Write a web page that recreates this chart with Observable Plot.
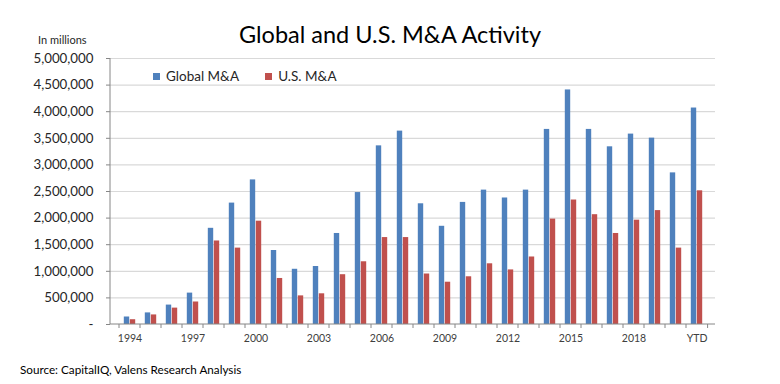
<!DOCTYPE html>
<html>
<head>
<meta charset="utf-8">
<script src="https://cdn.jsdelivr.net/npm/d3@7"></script>
<script src="https://cdn.jsdelivr.net/npm/@observablehq/plot@0.6"></script>
<style>
  html, body { margin: 0; padding: 0; background: #fff; }
  #wrap { position: relative; width: 780px; height: 384px; font-family: Lato, "Open Sans", sans-serif; color: #000; }
  #title { position: absolute; left: 0; width: 780px; top: 19px; height: 30px; line-height: 30px; text-align: center; font-size: 23.5px; }
  #unit { position: absolute; left: 38px; top: 33px; font-size: 11px; color: #262626; }
  #chart { position: absolute; left: 0; top: 50px; }
  #legend { position: absolute; left: 153px; top: 68px; font-size: 13.5px; color: #262626; display: flex; gap: 26px; }
  #legend span.item { display: flex; align-items: center; }
  #legend span.sw { display: inline-block; width: 7px; height: 7px; margin-right: 6px; }
  #source { position: absolute; left: 20px; top: 362px; font-size: 11.7px; color: #000; }
</style>
</head>
<body>
<div id="wrap">
  <div id="title">Global and U.S. M&amp;A Activity</div>
  <div id="unit">In millions</div>
  <div id="chart"></div>
  <div id="legend"></div>
  <div id="source">Source: CapitalIQ, Valens Research Analysis</div>
</div>
<script>
const years = ["1994","1995","1996","1997","1998","1999","2000","2001","2002","2003","2004","2005","2006","2007","2008","2009","2010","2011","2012","2013","2014","2015","2016","2017","2018","2019","2020","YTD"];
const globalMA = [141000, 218000, 365000, 590000, 1808000, 2282000, 2718000, 1391000, 1038000, 1090000, 1711000, 2480000, 3358000, 3635000, 2269000, 1846000, 2295000, 2526000, 2378000, 2526000, 3667000, 4409000, 3667000, 3340000, 3579000, 3503000, 2850000, 4069000];
const usMA = [90000, 180000, 308000, 423000, 1570000, 1436000, 1942000, 865000, 538000, 577000, 936000, 1179000, 1634000, 1634000, 949000, 795000, 897000, 1141000, 1026000, 1269000, 1981000, 2340000, 2064000, 1711000, 1961000, 2141000, 1436000, 2513000];
const seriesNames = ["Global M&A", "U.S. M&A"];
const seriesColors = ["#4F81BD", "#C0504D"];
const xTickLabels = ["1994","1997","2000","2003","2006","2009","2012","2015","2018","YTD"];
const yTicks = [0, 500000, 1000000, 1500000, 2000000, 2500000, 3000000, 3500000, 4000000, 4500000, 5000000];

const data = years.map((y, i) => ({year: y, global: globalMA[i], us: usMA[i]}));

const W = 780, H = 300, ML = 110, MR = 65, MT = 8, MB = 26;
const bw = (W - ML - MR) / years.length;
const barW = 6;
const outer = (bw - 2 * barW) / 2;

const fmt = d3.format(",");

function boundaryTicks(index, scales, values, dimensions) {
  const g = d3.create("svg:g").attr("stroke", "#868686").attr("stroke-width", 1);
  const yb = dimensions.height - dimensions.marginBottom;
  const xs = years.map(y => scales.x(y));
  xs.push(scales.x(years[years.length - 1]) + bw);
  for (const x of xs) {
    g.append("line").attr("x1", x).attr("x2", x).attr("y1", yb).attr("y2", yb + 4);
  }
  g.append("line").attr("x1", dimensions.marginLeft).attr("x2", dimensions.marginLeft)
    .attr("y1", dimensions.marginTop).attr("y2", yb);
  g.append("line").attr("x1", dimensions.marginLeft).attr("x2", dimensions.width - dimensions.marginRight)
    .attr("y1", yb).attr("y2", yb);
  return g.node();
}

const chart = Plot.plot({
  width: W, height: H,
  marginLeft: ML, marginRight: MR, marginTop: MT, marginBottom: MB,
  style: {fontFamily: "Lato, 'Open Sans', sans-serif", background: "#fff"},
  x: {domain: years, padding: 0, axis: null},
  y: {domain: [0, 5000000], axis: null},
  marks: [
    Plot.gridY(yTicks.slice(1), {stroke: "#d9d9d9", strokeOpacity: 1, strokeWidth: 1.2}),
    Plot.barY(data, {x: "year", y: "global", fill: seriesColors[0], insetLeft: outer, insetRight: outer + barW}),
    Plot.barY(data, {x: "year", y: "us", fill: seriesColors[1], insetLeft: outer + barW, insetRight: outer}),
    Plot.axisY({ticks: yTicks, tickFormat: d => d === 0 ? "-" : fmt(d), tickSize: 4, tickPadding: 13,
      fontSize: 13.3, fill: "#262626", stroke: "#868686", label: null}),
    Plot.axisX({ticks: xTickLabels, tickSize: 0, tickPadding: 10, fontSize: 10.5, fill: "#404040", label: null}),
    boundaryTicks
  ]
});
document.getElementById("chart").appendChild(chart);

const legend = document.getElementById("legend");
seriesNames.forEach((name, i) => {
  const item = document.createElement("span");
  item.className = "item";
  const sw = document.createElement("span");
  sw.className = "sw";
  sw.style.background = seriesColors[i];
  item.appendChild(sw);
  item.appendChild(document.createTextNode(name));
  legend.appendChild(item);
});
</script>
</body>
</html>
